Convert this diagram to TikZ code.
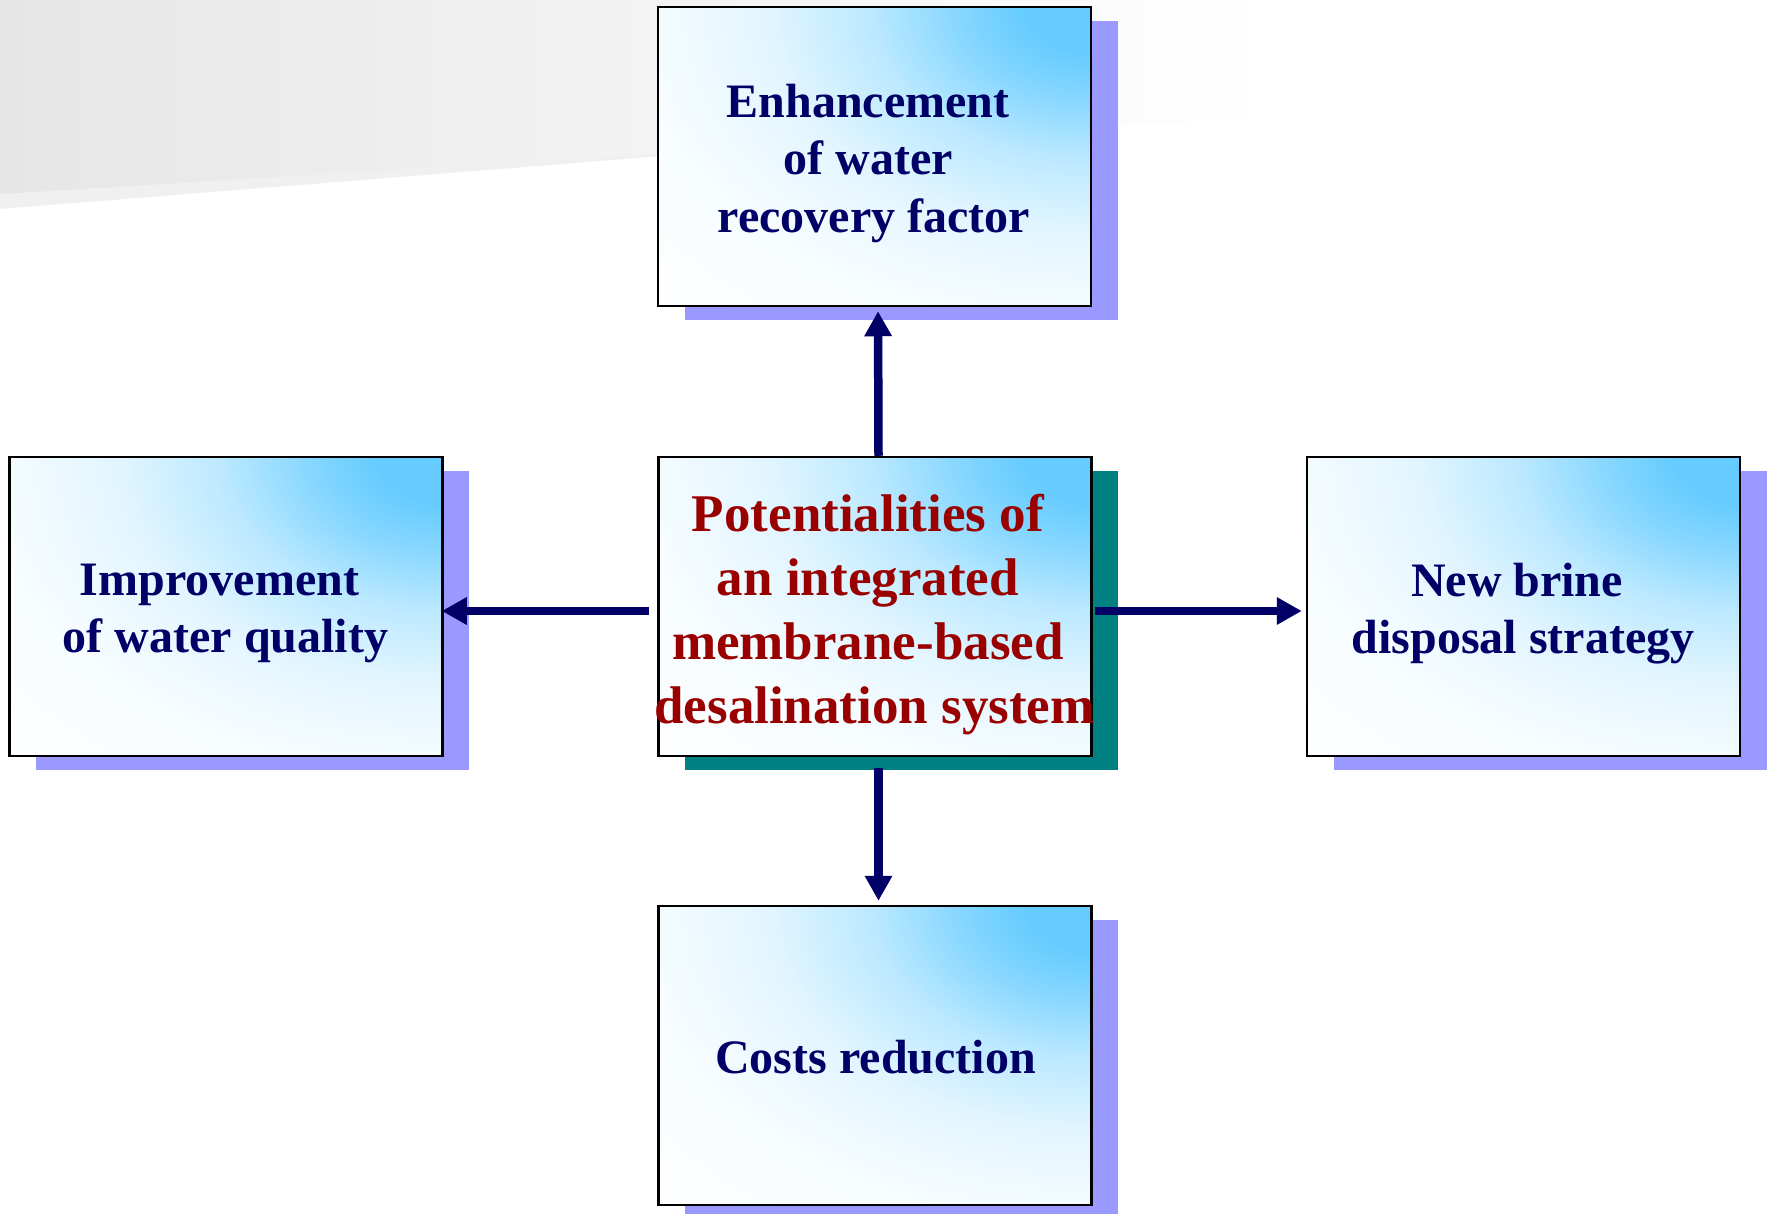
\documentclass[tikz,border=0pt]{standalone}
\usepackage{fontspec}
\setmainfont{Liberation Serif}
\usetikzlibrary{arrows.meta,shadows,backgrounds}
\definecolor{navytext}{HTML}{000066}
\definecolor{redtext}{HTML}{990000}
\definecolor{boxblue}{HTML}{66CCFF}
\definecolor{shadowblue}{HTML}{9999FF}
\definecolor{tealshadow}{HTML}{008080}
\definecolor{bannergray}{HTML}{E6E6E6}
\definecolor{bandgray}{HTML}{F0F0F0}
\definecolor{arrshadow}{HTML}{E6E6E6}
\pgfdeclareradialshading{boxglow}{\pgfpointorigin}{color(0bp)=(boxblue); color(2.6bp)=(boxblue); color(5.2bp)=(boxblue!78!white); color(8.5bp)=(boxblue!44!white); color(12.5bp)=(boxblue!19!white); color(17.5bp)=(boxblue!5!white); color(25bp)=(white); color(50bp)=(white)}
\tikzset{
  box/.style={draw=black, line width=2.5pt, fill=white, minimum width=433pt, minimum height=299pt, inner sep=0pt,
    path picture={\path[shading=boxglow] (path picture bounding box.north east) ellipse [x radius=650pt, y radius=450pt];}},
  blueshadow/.style={general shadow={fill=shadowblue, shadow xshift=26.5pt, shadow yshift=-13.5pt}},
  tealshad/.style={general shadow={fill=tealshadow, shadow xshift=26.5pt, shadow yshift=-13.5pt}},
  navylabel/.style={text=navytext, font=\fontsize{48}{57.5}\selectfont\bfseries, align=center, inner sep=0pt},
  redlabel/.style={text=redtext, font=\fontsize{53}{64}\selectfont\bfseries, align=center, inner sep=0pt},
  arr/.style={draw=navytext, line width=8.5pt, -{Triangle[length=25pt,width=26pt]}},
  arrsh/.style={draw=arrshadow, line width=8.5pt, -{Triangle[length=25pt,width=26pt]}}
}
\begin{document}
\begin{tikzpicture}[x=1pt,y=-1pt]
\useasboundingbox (0,0) rectangle (1767,1213);
% boxes
\node[box,blueshadow] (top) at (874.5,156.5) {};
\node[box,tealshad] (mid) at (875,606.5) {};
\node[box,blueshadow] (bot) at (875,1055.5) {};
\node[box,blueshadow] (left) at (226,606.5) {};
\node[box,blueshadow] (right) at (1523.5,606.5) {};
% texts
\node[navylabel] (ttop) at (874,163.5) {Enhancement\kern0.25em\\of water\kern0.25em\\recovery factor};
\node[redlabel] (tmid) at (874.5,615) {Potentialities of\kern0.25em\\an integrated\kern0.25em\\membrane-based\kern0.25em\\desalination system};
\node[navylabel] (tbot) at (875.5,1057.5) {Costs reduction};
\node[navylabel] (tleft) at (225.5,613.5) {Improvement\kern0.25em\\of water quality};
\node[navylabel] (tright) at (1523,613.5) {New brine\kern0.25em\\disposal strategy};
% background: banner and arrow shadows
\begin{scope}[on background layer]
  \fill[bandgray] (0,0) -- (700,0) -- (700,153) -- (0,209) -- cycle;
  \shade[left color=bannergray, right color=white] (0,0) -- (1270,0) -- (1270,117) -- (0,194) -- cycle;
  \begin{scope}[xshift=-5pt, yshift=6pt]
    \draw[arrsh, shorten >=4pt] ([xshift=3.5pt]mid.north) -- ([xshift=3.5pt]top.south);
    \draw[arrsh, shorten <=11pt, shorten >=4pt] ([xshift=3.5pt]mid.south) -- ([xshift=3.5pt]bot.north);
    \draw[arrsh, shorten <=8pt, shorten >=-2pt] ([yshift=-4.5pt]mid.west) -- ([yshift=-4.5pt]left.east);
    \draw[arrsh, shorten <=2pt, shorten >=4pt] ([yshift=-4.5pt]mid.east) -- ([yshift=-4.5pt]right.west);
  \end{scope}
\end{scope}
% arrows
\draw[arr, shorten >=4pt] ([xshift=3.5pt]mid.north) -- ([xshift=3.5pt]top.south);
\draw[arr, shorten <=11pt, shorten >=4pt] ([xshift=3.5pt]mid.south) -- ([xshift=3.5pt]bot.north);
\draw[arr, shorten <=8pt, shorten >=-2pt] ([yshift=-4.5pt]mid.west) -- ([yshift=-4.5pt]left.east);
\draw[arr, shorten <=2pt, shorten >=4pt] ([yshift=-4.5pt]mid.east) -- ([yshift=-4.5pt]right.west);
\end{tikzpicture}
\end{document}
